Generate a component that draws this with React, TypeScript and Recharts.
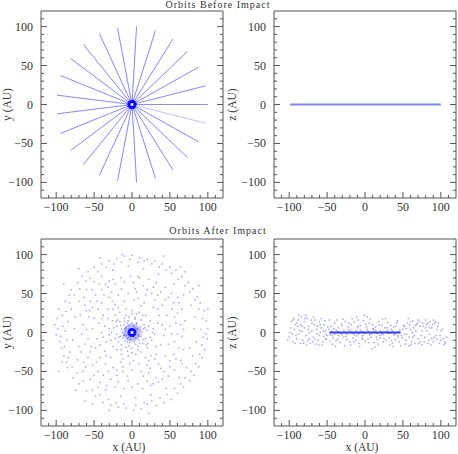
import React from "react";
import { ScatterChart, Scatter, XAxis, YAxis } from "recharts";

// ---- data ----

// outer ends of the 25 radial orbits (AU), top-left panel
const spokeEnds: [number, number][] = [
  [100, 0], [97, 24], [88, 48], [73, 68], [54, 84], [31, 95], [6, 100],
  [-19, 98], [-43, 91], [-64, 77], [-81, 59], [-94, 37], [-99, 12],
  [-99, -12], [-94, -37], [-81, -59], [-64, -77], [-43, -91], [-19, -98],
  [6, -100], [31, -95], [54, -84], [73, -68], [88, -48], [97, -24],
];

// after impact, face-on (x, y)
const afterXY: [number, number][] = [
  // outer
  [-98, 5], [-95, -12], [-92, 22], [-90, -30], [-96, 30], [-88, 40], [-85, -45], [-80, 55], [-78, -58], [-72, 64],
  [-70, -66], [-66, 72], [-60, -75], [-58, 78], [-50, 84], [-48, -82], [-40, 88], [-38, -90], [-30, 92], [-28, -93],
  [-20, 95], [-18, -96], [-10, 98], [-8, -97], [0, 99], [2, -100], [10, 96], [12, -98], [20, 94], [22, -104],
  [30, 92], [32, -94], [40, 88], [42, -90], [50, 84], [52, -86], [58, 80], [60, -78], [66, 72], [68, -70],
  [74, 64], [76, -62], [80, 56], [82, -55], [86, 46], [88, -44], [90, 38], [92, -32], [95, 28], [96, -22],
  [98, 15], [99, -8], [100, 5], [97, -2], [-100, -3], [-102, 10], [-99, 18], [-93, -20], [-86, -38], [-83, 48],
  [-75, 20], [-78, -10], [-72, -35], [-70, 40], [-65, -50], [-60, 55], [-55, -60], [-50, 65], [-45, -70], [-40, 72],
  [-35, -74], [-25, 80], [-15, -82], [-5, 85], [5, -84], [15, 82], [25, -80], [35, 75], [45, -72], [55, 62],
  [62, -58], [68, 48], [72, -45], [78, 35], [80, -30], [83, 20], [85, -12], [82, 5], [76, -20], [-82, -25],
  [-80, 30], [-76, 5], [-13, 100], [-90, 62], [88, 60], [-62, -88], [64, 84], [-96, -50], [100, 30], [20, -92],
  [-94, -5], [-91, 8], [-89, -18], [-87, 27], [-84, -33], [-82, 38], [-79, -44], [-76, 48], [-73, -52], [-69, 56],
  [-64, -62], [-61, 66], [-55, 70], [-52, -74], [-45, 78], [-42, -80], [-34, 84], [-31, -86], [-24, 88], [-21, -90],
  [-14, 90], [-11, -92], [-3, 94], [5, -93], [8, 90], [16, -90], [16, 92], [26, -88], [26, 88], [37, -84],
  [36, 84], [46, -80], [45, 80], [56, -72], [52, 76], [64, -66], [61, 68], [70, -58], [70, 60], [78, -50],
  [76, 52], [84, -40], [83, 42], [89, -28], [88, 30], [92, -16], [93, 18], [94, -6], [91, 4], [-88, 2],
  [-86, -10], [-84, 14], [-92, -38], [-74, -74], [-52, -92], [-30, -100], [42, 98], [-42, 96], [70, 78], [-70, 82],
  // middle
  [-65, 10], [-62, -15], [-60, 28], [-58, -32], [-55, 40], [-52, -42], [-48, 48], [-45, -50], [-40, 55], [-38, -55],
  [-32, 58], [-28, -60], [-22, 62], [-18, -63], [-10, 65], [-5, -62], [2, 64], [8, -66], [15, 60], [20, -62],
  [28, 58], [32, -58], [38, 52], [42, -50], [48, 45], [50, -44], [55, 38], [58, -34], [60, 25], [62, -20],
  [64, 10], [66, -5], [-66, -2], [-50, 18], [-48, -20], [-45, 30], [-42, -32], [-40, 38], [-35, -40], [-30, 45],
  [-25, -45], [-18, 48], [-12, -50], [-5, 50], [0, -48], [6, 52], [12, -50], [18, 48], [24, -46], [30, 42],
  [35, -40], [40, 35], [44, -30], [46, 22], [48, -15], [50, 8], [52, -2], [-52, 5], [-46, -8], [-44, 12],
  [-38, 22], [-36, -24], [-32, 30], [-28, -32], [-22, 36], [-15, -38], [-10, 40], [-3, -40], [3, 42], [9, -40],
  [16, 38], [22, -36], [28, 32], [32, -28], [36, 22], [38, -16], [40, 10], [42, -4], [-40, 0], [-38, -6],
  [-55, -25], [-57, 20], [55, -28], [56, 20], [-20, -55], [20, 55], [-62, 35], [62, 38], [-35, 62], [35, -64],
  [-64, -38], [64, -36], [-25, 68], [25, -68], [70, 15], [-70, -18], [10, 70], [-10, -72],
  [-68, 22], [-67, -25], [-63, 45], [-61, -44], [-53, 55], [-50, -55], [-43, 62], [-42, -64], [-30, 66], [-33, -68],
  [-15, 70], [-22, -70], [-2, 72], [0, -70], [8, 72], [14, -72], [22, 68], [28, -66], [32, 64], [40, -60],
  [44, 58], [48, -56], [52, 50], [56, -48], [60, 45], [66, -40], [66, 30], [68, -22], [68, 4], [-58, -8],
  [-54, -18], [-56, 28], [-52, 32], [-47, -38], [-46, 40], [-37, 48], [-31, -50], [-27, 52], [-20, -48], [-14, 56],
  [-6, -56], [4, 56], [15, -56], [22, -52], [26, 50], [34, 48], [38, -46], [44, 42], [50, -36], [53, 30],
  [56, -12], [58, 12], [60, -2], [-60, 4], [-42, -16], [-40, 18], [-36, 8], [-34, -30], [-26, 40], [-12, -44],
  [2, -36], [8, 44], [20, -42], [30, -34], [34, 30], [44, 4],
  // inner
  [-30, 5], [-28, -10], [-26, 15], [-25, -18], [-22, 22], [-20, -22], [-16, 26], [-14, -28], [-8, 30], [-5, -30],
  [0, 28], [5, -28], [10, 26], [12, -25], [18, 22], [20, -20], [24, 15], [26, -10], [28, 5], [30, -2],
  [-30, -3], [-20, 8], [-18, -12], [-16, 14], [-14, -16], [-10, 18], [-8, -19], [-4, 20], [0, -20], [4, 19],
  [8, -18], [12, 16], [14, -14], [16, 10], [18, -8], [20, 3], [-20, -2], [-14, 4], [-12, -7], [-11, 10],
  [-9, -11], [-6, 12], [-3, -13], [0, 12], [3, -12], [6, 11], [9, -10], [11, 7], [12, -5], [13, 1],
  [-13, 0], [-10, -3], [-8, 6], [-6, -8], [-4, 9], [-2, -9], [2, 8], [5, -7], [7, 5], [8, -3],
  [-8, 2], [-25, 30], [25, -30], [-32, 18], [32, -18], [-18, 32], [18, -32], [-34, -12], [34, 12], [-12, -34],
  [12, 34], [-6, -24], [6, 24], [-24, 6], [24, -6], [-15, -5], [15, 5], [-5, 15], [5, -15],
  [-3, 4], [3, -4], [-5, -2], [5, 2], [-2, 5], [2, -5], [-7, -4], [7, 4], [-4, -6], [4, 6],
  [-9, 5], [9, -5], [-6, -12], [6, 12], [-11, -4], [11, 4], [-15, 9], [15, -9], [-10, 14], [10, -14],
  [-17, -6], [17, 6], [-4, -17], [4, 17], [-22, -8], [22, 8], [-8, 22], [8, -22], [-19, 16], [19, -16],
  [-27, 0], [27, 0], [0, -26], [0, 24], [-14, -22], [14, 22], [-21, 14], [21, -14],
];

// after impact, edge-on (x, z)
const afterXZ: [number, number][] = [
  // near the midplane
  [-44, 2], [-40, -2], [-36, 1], [-32, -1], [-28, 2], [-24, -2], [-20, 1], [-16, -1], [-12, 2], [-8, -2],
  [-4, 1], [0, -1], [4, 2], [8, -2], [12, 1], [16, -1], [20, 2], [24, -2], [28, 1], [32, -1],
  [36, 2], [40, -2], [44, 1], [-46, -3], [46, 3], [-38, 3], [38, -3], [-30, -3], [30, 3], [-22, 3],
  [22, -3], [-14, -3], [14, 3], [-6, 3], [6, -3], [-50, -4], [50, 4], [-48, 4], [48, -4],
  [-42, 0], [-34, 0], [-26, 0], [-18, 0], [-10, 0], [-2, 0], [6, 0], [14, 0], [22, 0], [30, 0],
  [38, 0], [-43, -4], [43, -4], [-35, -4], [35, 4], [-19, 4], [19, -4], [-11, -4], [11, 4], [-3, -4],
  [3, 4], [-52, 2], [52, -2], [-54, -5], [54, 5], [-49, 7], [49, -7], [-51, -9], [51, 9],
  // inner band
  [-45, 8], [-42, -7], [-40, 12], [-38, -10], [-35, 6], [-33, -13], [-30, 9], [-28, -6], [-26, 14], [-24, -9],
  [-22, 7], [-20, -12], [-18, 10], [-16, -7], [-14, 13], [-12, -10], [-10, 6], [-8, -14], [-6, 9], [-4, -7],
  [-2, 15], [0, -11], [2, 7], [4, -8], [6, 12], [8, -6], [10, 10], [12, -13], [14, 7], [16, -9],
  [18, 14], [20, -7], [22, 9], [24, -12], [26, 6], [28, -10], [30, 13], [32, -7], [34, 9], [36, -14],
  [38, 7], [40, -9], [42, 12], [44, -6], [-43, -15], [-37, 16], [-27, -17], [-17, 18], [-7, -18], [3, 20],
  [13, -19], [23, 17], [33, -16], [43, 15], [-1, 22], [-11, 20], [9, -21],
  [-46, -11], [-41, 5], [-36, -8], [-31, 11], [-25, -5], [-21, 12], [-15, -12], [-9, 8], [-3, -9], [1, 11],
  [5, -13], [11, 5], [15, -6], [19, 10], [25, -8], [29, 6], [35, -10], [41, 8], [45, -12], [-39, -18],
  [-29, 17], [-19, -16], [-9, 16], [7, 17], [17, -15], [27, 18], [37, -18], [-47, 16], [47, -17],
  // outer band, left
  [-52, -8], [-54, 10], [-56, -12], [-58, 6], [-60, 14], [-62, -10], [-64, 4], [-66, 16], [-68, -6], [-70, 12],
  [-72, -14], [-74, 8], [-76, 18], [-78, -4], [-80, 14], [-82, -10], [-84, 20], [-86, 2], [-88, 16], [-90, -8],
  [-92, 10], [-94, 18], [-96, -2], [-98, 6], [-100, -6], [-55, 2], [-60, -4], [-65, -15], [-70, 2], [-75, -10],
  [-80, 6], [-85, -14], [-90, 12], [-95, -12], [-58, 18], [-68, 20], [-78, 22], [-88, -2], [-92, -14], [-53, 15],
  [-63, -2], [-73, 0], [-83, 8], [-93, 4], [-57, -16], [-67, 10], [-77, -16], [-87, 22], [-97, 14], [-102, -10],
  [-51, -2], [-59, 10], [-61, -16], [-63, 8], [-69, -12], [-71, 16], [-73, -8], [-79, 18], [-81, -14], [-83, 2],
  [-89, 8], [-91, -4], [-95, 16], [-99, 0], [-59, 0], [-75, 4], [-85, 10], [-66, -9],
  // outer band, right
  [52, 8], [54, -10], [56, 12], [58, -6], [60, 14], [62, -12], [64, 6], [66, -14], [68, 10], [70, -8],
  [72, 14], [74, -4], [76, 12], [78, -12], [80, 16], [82, 2], [84, -10], [86, 14], [88, 6], [90, -12],
  [92, 12], [94, -4], [96, 8], [98, -14], [100, -10], [102, 4], [104, -16], [55, -2], [60, 4], [65, -4],
  [70, 16], [75, -16], [80, 6], [85, -2], [90, 16], [95, -8], [100, 2], [57, 18], [67, 2], [77, 8],
  [87, -16], [97, 12], [53, -15], [63, 15], [73, -12], [83, 12], [93, 14], [106, -14], [108, -6], [58, -17],
  [59, 10], [61, -16], [63, -6], [69, 12], [71, -14], [73, 8], [79, -6], [81, 10], [83, -14], [89, 10],
  [91, -6], [95, 4], [99, -4], [103, -8], [105, -12], [75, 2], [85, 6], [66, 9], [88, -8], [62, 0],
];

// dense midplane streak, edge-on after impact
const streakX = [-47, 47];

const axisTicks = [-110, -100, -90, -80, -70, -60, -50, -40, -30, -20, -10, 0, 10, 20, 30, 40, 50, 60, 70, 80, 90, 100, 110];
const axisDomain = [-120, 120];

// ---- styling ----
const FRAME = "#555";
const INK = "#333";
const BLUE = "#0000ff";
const SERIF = "'Liberation Serif', 'DejaVu Serif', serif";

const fmt = (v: number) => (v < 0 ? `\u2212${Math.abs(v)}` : `${v}`);

function FrameTick(props: any) {
  const { x, y, payload, side, label } = props;
  const v = payload.value as number;
  const major = v % 50 === 0;
  const len = major ? 6 : 3;
  let x2 = x;
  let y2 = y;
  if (side === "bottom") y2 = y - len;
  if (side === "top") y2 = y + len;
  if (side === "left") x2 = x + len;
  if (side === "right") x2 = x - len;
  return (
    <g>
      <line x1={x} y1={y} x2={x2} y2={y2} stroke={FRAME} strokeWidth={1} />
      {label && major && side === "bottom" && (
        <text x={x} y={y + 13} textAnchor="middle" fontSize={12} fill={INK} fontFamily={SERIF}>
          {fmt(v)}
        </text>
      )}
      {label && major && side === "left" && (
        <text x={x - 8} y={y + 4} textAnchor="end" fontSize={12} fill={INK} fontFamily={SERIF}>
          {fmt(v)}
        </text>
      )}
    </g>
  );
}

const Dot = (p: any) => (
  <rect x={p.cx - 0.75} y={p.cy - 0.75} width={1.5} height={1.5} fill={BLUE} fillOpacity={0.36} />
);
const NoDot = () => <g />;

const CoreDot = (p: any) => (
  <g>
    <circle cx={p.cx} cy={p.cy} r={p.payload.halo} fill={BLUE} fillOpacity={0.25} />
    <circle cx={p.cx} cy={p.cy} r={4.5} fill={BLUE} fillOpacity={0.9} />
    <rect x={p.cx - 1.3} y={p.cy - 1.3} width={2.6} height={2.6} fill="#fff" />
  </g>
);

type PanelProps = {
  left: number;
  top: number;
  width: number;
  height: number;
  margin: { top: number; right: number; bottom: number; left: number };
  children: React.ReactNode;
};

// axes are 1px thick so they still render; margins are reduced by that pixel
const Panel = ({ left, top, width, height, margin, children }: PanelProps) => (
  <div style={{ position: "absolute", left, top }}>
    <ScatterChart
      width={width}
      height={height}
      margin={{ top: margin.top - 1, right: margin.right - 1, bottom: margin.bottom - 1, left: margin.left - 1 }}
    >
      <XAxis
        type="number" dataKey="x" domain={axisDomain} ticks={axisTicks} interval={0}
        height={1} tickSize={0} tickMargin={0} allowDataOverflow
        axisLine={{ stroke: FRAME }} tickLine={false}
        tick={(p: any) => <FrameTick {...p} side="bottom" label />}
      />
      <XAxis
        xAxisId="top" orientation="top" type="number" domain={axisDomain} ticks={axisTicks} interval={0}
        height={1} tickSize={0} tickMargin={0} allowDataOverflow
        axisLine={{ stroke: FRAME }} tickLine={false}
        tick={(p: any) => <FrameTick {...p} side="top" />}
      />
      <YAxis
        type="number" dataKey="y" domain={axisDomain} ticks={axisTicks} interval={0}
        width={1} tickSize={0} tickMargin={0} allowDataOverflow
        axisLine={{ stroke: FRAME }} tickLine={false}
        tick={(p: any) => <FrameTick {...p} side="left" label />}
      />
      <YAxis
        yAxisId="right" orientation="right" type="number" domain={axisDomain} ticks={axisTicks} interval={0}
        width={1} tickSize={0} tickMargin={0} allowDataOverflow
        axisLine={{ stroke: FRAME }} tickLine={false}
        tick={(p: any) => <FrameTick {...p} side="right" />}
      />
      {children}
    </ScatterChart>
  </div>
);

const spokeFace = spokeEnds.flatMap(([x, y]) => [{ x: 0, y: 0 }, { x, y }]);
const spokeEdge = spokeEnds.flatMap(([x]) => [{ x: 0, y: 0 }, { x, y: 0 }]);
const afterFace = afterXY.map(([x, y]) => ({ x, y }));
const afterEdge = afterXZ.map(([x, z]) => ({ x, y: z }));
const streak = streakX.map((x) => ({ x, y: 0 }));

const textStyle: React.CSSProperties = {
  position: "absolute",
  fontFamily: SERIF,
  color: INK,
  whiteSpace: "nowrap",
};

const Title = ({ text, cx, cy }: { text: string; cx: number; cy: number }) => (
  <div
    style={{
      ...textStyle, left: cx - 100, top: cy - 5, width: 200, height: 10, lineHeight: "10px",
      textAlign: "center", fontSize: 10, letterSpacing: 1,
    }}
  >
    {text}
  </div>
);

const AxisName = ({ text, cx, cy, rotate }: { text: string; cx: number; cy: number; rotate?: boolean }) => (
  <div
    style={{
      ...textStyle, left: cx - 30, top: cy - 5.5, width: 60, height: 11, lineHeight: "11px",
      textAlign: "center", fontSize: 11.5,
      transform: rotate ? "rotate(-90deg)" : undefined,
    }}
  >
    {text}
  </div>
);

const leftMargin = (t: number, b: number) => ({ top: t, right: 6, bottom: b, left: 41 });
const rightMargin = (t: number, b: number) => ({ top: t, right: 2, bottom: b, left: 45 });

export default function App() {
  return (
    <div style={{ position: "absolute", left: 0, top: 0, width: 458, height: 454, background: "#fff", overflow: "hidden" }}>
      <Panel left={0} top={0} width={229} height={225} margin={leftMargin(11, 27)}>
        <Scatter data={spokeFace} shape={NoDot} line={{ stroke: BLUE, strokeWidth: 0.7, strokeOpacity: 0.38 }} isAnimationActive={false} />
        <Scatter data={[{ x: 0, y: 0, halo: 5 }]} shape={CoreDot} isAnimationActive={false} />
      </Panel>
      <Panel left={229} top={0} width={229} height={225} margin={rightMargin(11, 27)}>
        <Scatter data={spokeEdge} shape={NoDot} line={{ stroke: "#2a3cf0", strokeWidth: 2, strokeOpacity: 0.6 }} isAnimationActive={false} />
      </Panel>
      <Panel left={0} top={225} width={229} height={229} margin={leftMargin(14, 28)}>
        <Scatter data={afterFace} shape={Dot} isAnimationActive={false} />
        <Scatter data={[{ x: 0, y: 0, halo: 9 }]} shape={CoreDot} isAnimationActive={false} />
      </Panel>
      <Panel left={229} top={225} width={229} height={229} margin={rightMargin(14, 28)}>
        <Scatter data={afterEdge} shape={Dot} isAnimationActive={false} />
        <Scatter data={streak} shape={NoDot} line={{ stroke: "#1020ee", strokeWidth: 2.2, strokeOpacity: 0.85 }} isAnimationActive={false} />
      </Panel>

      <Title text="Orbits Before Impact" cx={218} cy={4.5} />
      <Title text="Orbits After Impact" cx={218} cy={231} />

      <AxisName text="y (AU)" cx={7} cy={104.5} rotate />
      <AxisName text="z (AU)" cx={232} cy={104.5} rotate />
      <AxisName text="y (AU)" cx={7} cy={332.5} rotate />
      <AxisName text="z (AU)" cx={232} cy={332.5} rotate />
      <AxisName text="x (AU)" cx={129} cy={447.5} />
      <AxisName text="x (AU)" cx={362} cy={447.5} />
    </div>
  );
}
